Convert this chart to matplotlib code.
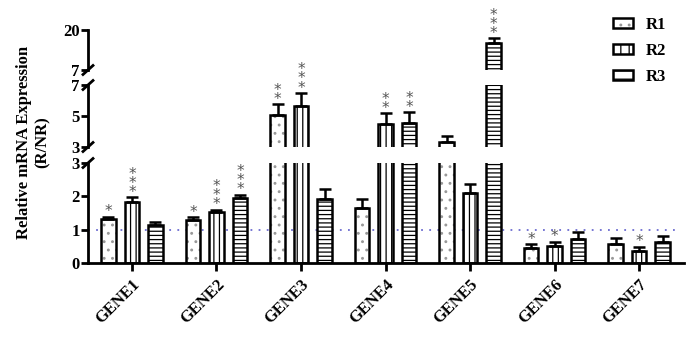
import matplotlib
matplotlib.use("Agg")
import matplotlib.pyplot as plt
from matplotlib.patches import Patch
from matplotlib.lines import Line2D
import numpy as np

# data
genes = ["GENE1", "GENE2", "GENE3", "GENE4", "GENE5", "GENE6", "GENE7"]
series = ["R1", "R2", "R3"]
r1 = [1.31, 1.29, 5.06, 1.64, 3.34, 0.44, 0.58]
r2 = [1.84, 1.52, 5.66, 4.48, 2.11, 0.51, 0.37]
r3 = [1.14, 1.94, 1.91, 4.53, 15.9, 0.73, 0.62]
r1_err = [0.08, 0.08, 0.71, 0.27, 0.39, 0.12, 0.17]
r2_err = [0.13, 0.08, 0.84, 0.69, 0.26, 0.13, 0.12]
r3_err = [0.08, 0.11, 0.30, 0.73, 1.4, 0.19, 0.20]
r1_sig = ["*", "*", "**", "", "", "*", ""]
r2_sig = ["***", "***", "***", "**", "", "*", "*"]
r3_sig = ["", "***", "", "**", "***", "", ""]

values = [r1, r2, r3]
errors = [r1_err, r2_err, r3_err]
sigs = [r1_sig, r2_sig, r3_sig]
hatches = ["..", "|||", "----"]
hatch_colors = ["#999999", "black", "black"]

plt.rcParams["font.family"] = ["Liberation Serif", "DejaVu Serif"]
plt.rcParams["font.weight"] = "bold"
plt.rcParams["hatch.linewidth"] = 0.9

W, H = 692, 337
fig = plt.figure(figsize=(W / 100, H / 100), dpi=100)

left = 88 / W
width = (684 - 88) / W
# pixel extents of the three y segments (top, bottom in image pixels)
segments = [(163, 263, 0, 3, [0, 1, 2, 3]),
            (85, 147, 3, 7, [3, 5, 7]),
            (30, 70, 7, 20, [7, 20])]

x = np.arange(len(genes))
offsets = [-0.278, 0, 0.278]
bw = 0.172
spine_lw = 2.0

axes = []
for (ptop, pbot, lo, hi, ticks) in segments:
    ax = fig.add_axes([left, 1 - pbot / H, width, (pbot - ptop) / H])
    ax.set_ylim(lo, hi)
    ax.set_xlim(-0.52, 6.53)
    ax.set_yticks(ticks)
    ax.set_yticklabels([str(t) for t in ticks])
    for s in ["top", "right"]:
        ax.spines[s].set_visible(False)
    ax.spines["left"].set_linewidth(spine_lw)
    ax.spines["bottom"].set_linewidth(spine_lw)
    ax.tick_params(axis="y", length=5, width=spine_lw, labelsize=12, pad=1)
    ax.tick_params(axis="x", length=6, width=spine_lw, labelsize=12, pad=4)
    ax.patch.set_alpha(0)
    if lo > 0:
        ax.spines["bottom"].set_visible(False)
        ax.set_xticks([])
    else:
        ax.axhline(1, color="#6b6bd0", lw=1.3, ls=(0, (1, 3.5)), zorder=1,
                   xmax=0.985)
        ax.set_xticks(x)
        ax.set_xticklabels(genes, rotation=45, ha="right", va="top",
                           rotation_mode="anchor", fontsize=12)

    for k in range(3):
        pos = x + offsets[k]
        ax.bar(pos, values[k], bw, color="white", edgecolor=hatch_colors[k],
               hatch=hatches[k], linewidth=0, zorder=2)
        ax.bar(pos, values[k], bw, color="none", edgecolor="black",
               linewidth=1.8, zorder=3)
        ax.errorbar(pos, values[k], yerr=[np.zeros(len(genes)), errors[k]],
                    fmt="none", ecolor="black", elinewidth=1.8, capsize=4,
                    capthick=1.8, zorder=3)
        for i in range(len(genes)):
            top = values[k][i] + errors[k][i]
            s = sigs[k][i]
            if s and lo <= top < hi:
                ax.annotate("\n".join(s), (pos[i], top), xytext=(0, -2),
                            textcoords="offset points", ha="center",
                            va="bottom", fontsize=11, color="#555555",
                            family="DejaVu Sans", fontweight="normal",
                            linespacing=0.52, annotation_clip=False)
    axes.append(ax)

# break marks on the y axis
for yp in [163, 147, 85, 70]:
    yc = 1 - yp / H
    fig.add_artist(Line2D([left - 5 / W, left + 5 / W],
                          [yc - 4.5 / H, yc + 4.5 / H],
                          color="black", lw=spine_lw,
                          transform=fig.transFigure))

fig.text(33 / W, 1 - 142 / H, "Relative mRNA Expression\n(R/NR)",
         rotation=90, ha="center", va="center", multialignment="center",
         fontsize=12, fontweight="bold")

handles = []
for k in range(3):
    h1 = Patch(facecolor="white", edgecolor=hatch_colors[k],
               hatch=hatches[k][:2], lw=0)
    h2 = Patch(facecolor="none", edgecolor="black", lw=1.8)
    handles.append((h1, h2))
fig.legend(handles, series, loc="upper left",
           bbox_to_anchor=(606 / W, 1 - 10 / H), frameon=False,
           fontsize=12, handlelength=1.2, handleheight=0.5,
           labelspacing=0.6, handletextpad=0.8, borderaxespad=0)

fig.savefig("out.png", dpi=100)
